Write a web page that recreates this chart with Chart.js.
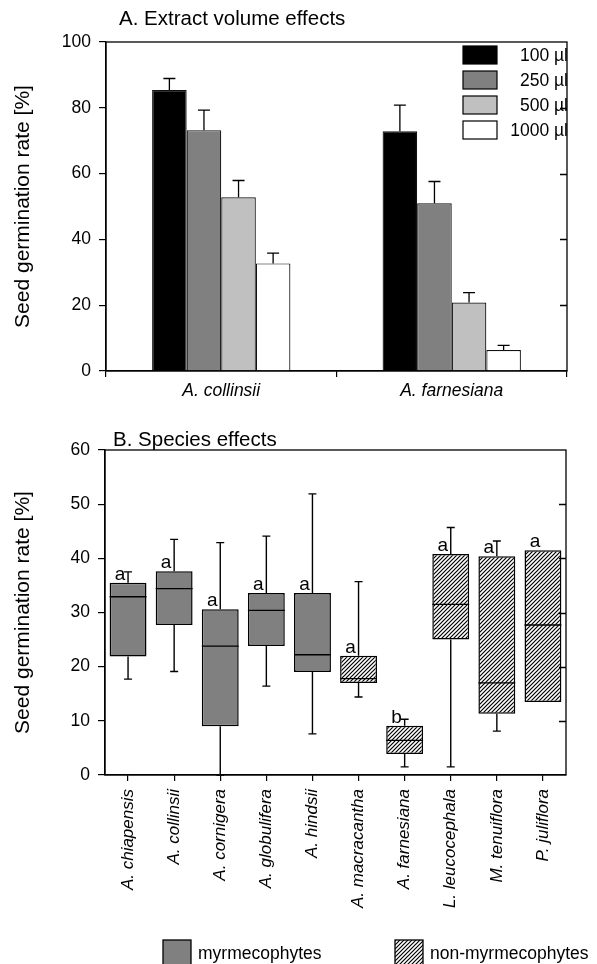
<!DOCTYPE html>
<html>
<head>
<meta charset="utf-8">
<script src="https://cdn.jsdelivr.net/npm/chart.js@4/dist/chart.umd.min.js"></script>
<style>
  body { margin: 0; background: #fff; }
  #wrap { position: relative; width: 597px; height: 964px; overflow: hidden; }
  canvas { position: absolute; left: 0; }
</style>
</head>
<body>
<div id="wrap">
  <canvas id="volumeChart" width="597" height="400" style="top:0"></canvas>
  <canvas id="speciesChart" width="597" height="564" style="top:400px"></canvas>
</div>
<script>
// A. extract volume effects
const volumeSpecies = ["A. collinsii", "A. farnesiana"];
const volumeLabels = ["100 µl", "250 µl", "500 µl", "1000 µl"];
const rate100 = [85.4, 72.9];
const rate250 = [73.2, 51.0];
const rate500 = [52.8, 20.8];
const rate1000 = [32.7, 6.4];
const err100 = [3.5, 7.9];
const err250 = [6.1, 6.6];
const err500 = [5.1, 3.0];
const err1000 = [3.1, 1.4];
const volumeTicks = [0, 20, 40, 60, 80, 100];

// B. species effects (box plots)
const species = ["A. chiapensis", "A. collinsii", "A. cornigera", "A. globulifera", "A. hindsii",
  "A. macracantha", "A. farnesiana", "L. leucocephala", "M. tenuiflora", "P. juliflora"];
const speciesGroup = ["myrmecophytes", "myrmecophytes", "myrmecophytes", "myrmecophytes", "myrmecophytes",
  "non-myrmecophytes", "non-myrmecophytes", "non-myrmecophytes", "non-myrmecophytes", "non-myrmecophytes"];
const boxLow = [21.9, 27.7, 9.0, 23.8, 19.0, 17.0, 3.9, 25.0, 11.3, 13.5];
const boxHigh = [35.5, 37.6, 30.6, 33.6, 33.6, 22.0, 9.1, 40.8, 40.4, 41.5];
const medians = [32.9, 34.4, 23.8, 30.4, 22.2, 17.8, 6.4, 31.5, 17.0, 27.7];
const whiskerLow = [17.7, 19.1, 0, 16.4, 7.6, 14.4, 1.5, 1.5, 8.1, null];
const whiskerHigh = [37.5, 43.5, 42.9, 44.1, 51.9, 35.7, 10.3, 45.7, 43.2, null];
const letters = ["a", "a", "a", "a", "a", "a", "b", "a", "a", "a"];
const speciesTicks = [0, 10, 20, 30, 40, 50, 60];

const FONT = '"Liberation Sans", Arial, Helvetica, sans-serif';
Chart.defaults.font.family = FONT;
Chart.defaults.color = "#000";

function makeHatch() {
  const s = 4;
  const c = document.createElement("canvas");
  c.width = s; c.height = s;
  const g = c.getContext("2d");
  g.fillStyle = "#fff";
  g.fillRect(0, 0, s, s);
  g.strokeStyle = "#000";
  g.lineWidth = 1.2;
  g.beginPath();
  g.moveTo(0, s); g.lineTo(s, 0);
  g.moveTo(-1, 1); g.lineTo(1, -1);
  g.moveTo(s - 1, s + 1); g.lineTo(s + 1, s - 1);
  g.stroke();
  return g.createPattern(c, "repeat");
}

// box around the plot area + inward ticks on the right side
const framePlugin = {
  id: "frame",
  afterDraw(chart) {
    const { ctx, chartArea: a, scales: { y } } = chart;
    ctx.save();
    ctx.strokeStyle = "#000";
    ctx.lineWidth = 1.3;
    ctx.strokeRect(a.left, a.top, a.right - a.left, a.bottom - a.top);
    ctx.beginPath();
    y.ticks.forEach(t => {
      if (t.value === y.min || t.value === y.max) return;
      const py = Math.round(y.getPixelForValue(t.value)) + 0.5;
      ctx.moveTo(a.right - 7, py);
      ctx.lineTo(a.right, py);
    });
    ctx.stroke();
    ctx.restore();
  }
};

function titlePlugin(text, dx, dy) {
  return {
    id: "panelTitle",
    afterDraw(chart) {
      const { ctx, chartArea: a } = chart;
      ctx.save();
      ctx.font = "20.5px " + FONT;
      ctx.fillStyle = "#000";
      ctx.textAlign = "left";
      ctx.textBaseline = "alphabetic";
      ctx.fillText(text, a.left + dx, a.top + dy);
      ctx.restore();
    }
  };
}

const errorBarPlugin = {
  id: "errorBars",
  afterDatasetsDraw(chart) {
    const { ctx, scales: { y } } = chart;
    ctx.save();
    ctx.strokeStyle = "#000";
    ctx.lineWidth = 1.3;
    chart.data.datasets.forEach((ds, i) => {
      chart.getDatasetMeta(i).data.forEach((bar, j) => {
        const top = y.getPixelForValue(ds.data[j] + ds.errors[j]);
        ctx.beginPath();
        ctx.moveTo(bar.x, bar.y);
        ctx.lineTo(bar.x, top);
        ctx.moveTo(bar.x - 6, top);
        ctx.lineTo(bar.x + 6, top);
        ctx.stroke();
      });
    });
    ctx.restore();
  }
};

const volumeLegendPlugin = {
  id: "volumeLegend",
  afterDatasetsDraw(chart) {
    const { ctx, chartArea: a } = chart;
    ctx.save();
    ctx.beginPath();
    ctx.rect(a.left, a.top, a.right - a.left, a.bottom - a.top);
    ctx.clip();
    ctx.font = "17.5px " + FONT;
    ctx.textAlign = "right";
    ctx.textBaseline = "middle";
    chart.data.datasets.forEach((ds, i) => {
      const bx = a.right - 104, by = a.top + 4 + i * 25;
      ctx.fillStyle = ds.backgroundColor;
      ctx.fillRect(bx, by, 34, 18);
      ctx.strokeStyle = "#000";
      ctx.lineWidth = 1.2;
      ctx.strokeRect(bx, by, 34, 18);
      ctx.fillStyle = "#000";
      ctx.fillText(ds.label, a.right + 1, by + 10);
    });
    ctx.restore();
  }
};

const boxPlotPlugin = {
  id: "boxParts",
  afterDatasetsDraw(chart) {
    const { ctx, scales: { y } } = chart;
    ctx.save();
    ctx.strokeStyle = "#000";
    ctx.lineWidth = 1.4;
    ctx.font = "19px " + FONT;
    ctx.fillStyle = "#000";
    ctx.textAlign = "center";
    ctx.textBaseline = "alphabetic";
    chart.getDatasetMeta(0).data.forEach((bar, i) => {
      const x = bar.x, half = bar.width / 2;
      const med = y.getPixelForValue(medians[i]);
      const top = y.getPixelForValue(boxHigh[i]);
      const bottom = y.getPixelForValue(boxLow[i]);
      ctx.beginPath();
      ctx.moveTo(x - half, med);
      ctx.lineTo(x + half, med);
      if (whiskerHigh[i] !== null) {
        const wy = y.getPixelForValue(whiskerHigh[i]);
        ctx.moveTo(x, top); ctx.lineTo(x, wy);
        ctx.moveTo(x - 4, wy); ctx.lineTo(x + 4, wy);
      }
      if (whiskerLow[i] !== null) {
        const wy = y.getPixelForValue(whiskerLow[i]);
        ctx.moveTo(x, bottom); ctx.lineTo(x, wy);
        ctx.moveTo(x - 4, wy); ctx.lineTo(x + 4, wy);
      }
      ctx.stroke();
      ctx.fillText(letters[i], x - 8, top - 3);
    });
    ctx.restore();
  }
};

const groupNames = ["myrmecophytes", "non-myrmecophytes"];

function groupFill(name, hatch) {
  return name === "myrmecophytes" ? "#808080" : hatch;
}

const speciesLegendPlugin = {
  id: "speciesLegend",
  afterDraw(chart) {
    const { ctx } = chart;
    const hatch = chart.data.datasets[0].hatch;
    const slots = [163, 395];
    ctx.save();
    ctx.font = "17.5px " + FONT;
    ctx.textAlign = "left";
    ctx.textBaseline = "alphabetic";
    groupNames.forEach((name, i) => {
      const bx = slots[i], by = 540;
      ctx.fillStyle = groupFill(name, hatch);
      ctx.fillRect(bx, by, 28, 30);
      ctx.strokeStyle = "#000";
      ctx.lineWidth = 1.3;
      ctx.strokeRect(bx, by, 28, 30);
      ctx.fillStyle = "#000";
      ctx.fillText(name, bx + 35, by + 19);
    });
    ctx.restore();
  }
};

// ---- chart A ----
const volumeRates = [rate100, rate250, rate500, rate1000];
const volumeErrors = [err100, err250, err500, err1000];
const volumeColors = ["#000000", "#808080", "#c0c0c0", "#ffffff"];

new Chart(document.getElementById("volumeChart"), {
  type: "bar",
  data: {
    labels: volumeSpecies,
    datasets: volumeLabels.map((label, i) => ({
      label: label,
      data: volumeRates[i],
      errors: volumeErrors[i],
      backgroundColor: volumeColors[i],
      borderColor: "#111",
      borderWidth: 1.2,
      barPercentage: 1,
      categoryPercentage: 0.6,
    })),
  },
  options: {
    responsive: false,
    animation: false,
    layout: { padding: { top: 42, right: 30, left: 0, bottom: 0 } },
    plugins: { legend: { display: false }, tooltip: { enabled: false } },
    scales: {
      x: {
        grid: { offset: true, drawOnChartArea: false, tickLength: 6, color: "#000", lineWidth: 1.2 },
        border: { color: "#000", width: 1.3 },
        ticks: { font: { size: 17.5, style: "italic" }, padding: 4 },
        afterFit: s => { s.height = 29; },
      },
      y: {
        min: 0,
        max: 100,
        afterBuildTicks: s => { s.ticks = volumeTicks.map(v => ({ value: v })); },
        grid: { drawOnChartArea: false, tickLength: 7, color: "#000", lineWidth: 1.2 },
        border: { color: "#000", width: 1.3 },
        ticks: { font: { size: 17.5 }, padding: 8 },
        title: { display: true, text: "Seed germination rate [%]", font: { size: 21 }, padding: { top: 11, bottom: 0 } },
        afterFit: s => { s.width = 106; },
      },
    },
  },
  plugins: [errorBarPlugin, volumeLegendPlugin, framePlugin, titlePlugin("A. Extract volume effects", 13, -17)],
});

// ---- chart B ----
const speciesCtx = document.getElementById("speciesChart").getContext("2d");
const hatch = makeHatch();

new Chart(speciesCtx, {
  type: "bar",
  data: {
    labels: species,
    datasets: [{
      label: "germination",
      data: species.map((_, i) => [boxLow[i], boxHigh[i]]),
      hatch: hatch,
      backgroundColor: speciesGroup.map(g => groupFill(g, hatch)),
      borderColor: "#000",
      borderWidth: 1.5,
      borderSkipped: false,
      barPercentage: 0.8,
      categoryPercentage: 1,
    }],
  },
  options: {
    responsive: false,
    animation: false,
    layout: { padding: { top: 50, right: 31, left: 0, bottom: 0 } },
    plugins: { legend: { display: false }, tooltip: { enabled: false } },
    scales: {
      x: {
        grid: { offset: false, drawOnChartArea: false, tickLength: 6, color: "#000", lineWidth: 1.2 },
        border: { color: "#000", width: 1.3 },
        ticks: { font: { size: 17, style: "italic" }, minRotation: 90, maxRotation: 90, autoSkip: false, padding: 8 },
        afterFit: s => { s.height = 189; },
      },
      y: {
        min: 0,
        max: 60,
        afterBuildTicks: s => { s.ticks = speciesTicks.map(v => ({ value: v })); },
        grid: { drawOnChartArea: false, tickLength: 7, color: "#000", lineWidth: 1.2 },
        border: { color: "#000", width: 1.3 },
        ticks: { font: { size: 17.5 }, padding: 8 },
        title: { display: true, text: "Seed germination rate [%]", font: { size: 21 }, padding: { top: 11, bottom: 0 } },
        afterFit: s => { s.width = 105; },
      },
    },
  },
  plugins: [boxPlotPlugin, framePlugin, speciesLegendPlugin, titlePlugin("B. Species effects", 8, -4)],
});
</script>
</body>
</html>
